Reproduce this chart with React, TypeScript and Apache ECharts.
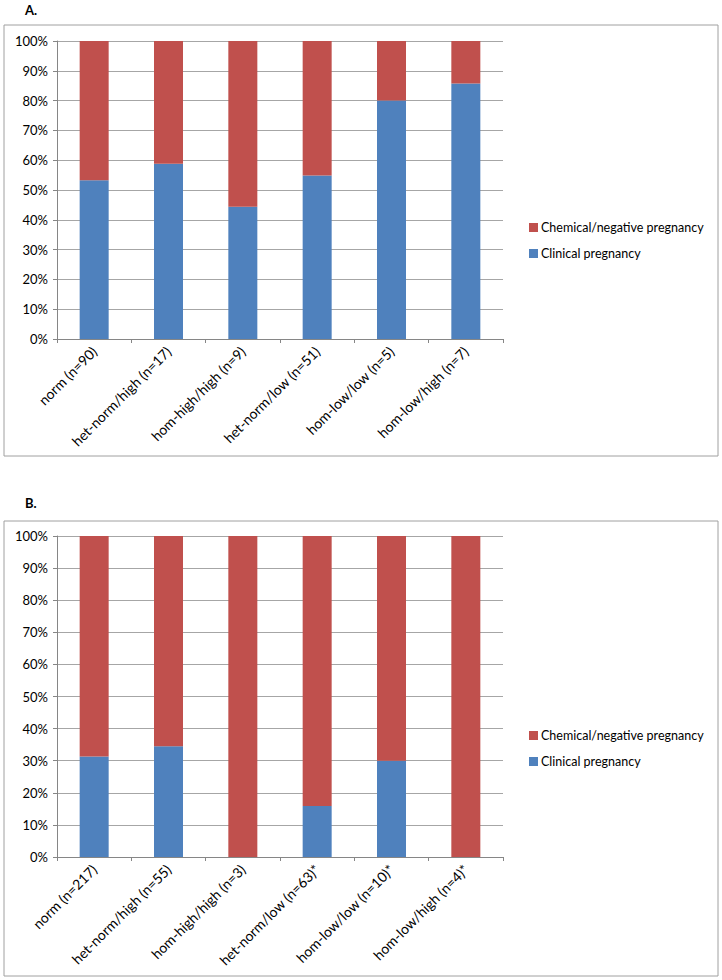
import React, { useEffect, useRef } from "react";
import * as echarts from "echarts";

const categoriesA = [
  "norm (n=90)",
  "het-norm/high (n=17)",
  "hom-high/high (n=9)",
  "het-norm/low (n=51)",
  "hom-low/low (n=5)",
  "hom-low/high (n=7)",
];
const clinicalA = [53.3, 58.8, 44.4, 54.9, 80.0, 85.7];
const chemicalA = [46.7, 41.2, 55.6, 45.1, 20.0, 14.3];

const categoriesB = [
  "norm (n=217)",
  "het-norm/high (n=55)",
  "hom-high/high (n=3)",
  "het-norm/low (n=63)*",
  "hom-low/low (n=10)*",
  "hom-low/high (n=4)*",
];
const clinicalB = [31.3, 34.5, 0, 15.9, 30.0, 0];
const chemicalB = [68.7, 65.5, 100, 84.1, 70.0, 100];

const yTicks = { min: 0, max: 100, interval: 10 };

const CLIN = "Clinical pregnancy";
const CHEM = "Chemical/negative pregnancy";
const BLUE = "#4f81bd";
const RED = "#c0504d";
const FONT = "Lato";
const GRAY = "#a6a6a6";

export default function App() {
  const ref = useRef<HTMLDivElement>(null);
  useEffect(() => {
    if (!ref.current) return;
    const chart = echarts.init(ref.current, null, { renderer: "svg" });
    const yAxis = (gi: number) => ({
      type: "value",
      gridIndex: gi,
      ...yTicks,
      axisLine: { show: true, lineStyle: { color: "#868686" } },
      axisTick: { show: true, length: 4, lineStyle: { color: "#868686" } },
      splitLine: { show: true, lineStyle: { color: GRAY } },
      axisLabel: { formatter: "{value}%", color: "#000", fontFamily: FONT, fontSize: 13, margin: 9 },
    });
    const xAxis = (gi: number, data: string[]) => ({
      type: "category",
      gridIndex: gi,
      data,
      axisLine: { show: true, lineStyle: { color: "#868686" } },
      axisTick: { show: true, length: 4, alignWithLabel: false, lineStyle: { color: "#868686" } },
      axisLabel: { rotate: 45, color: "#000", fontFamily: FONT, fontSize: 14, margin: 10, interval: 0 },
    });
    const bar = (name: string, data: number[], color: string, gi: number) => ({
      type: "bar",
      name,
      data,
      stack: "s" + gi,
      xAxisIndex: gi,
      yAxisIndex: gi,
      barWidth: 29,
      itemStyle: { color },
    });
    const legend = (top: number) => ({
      orient: "vertical",
      left: 524,
      top,
      itemWidth: 9,
      itemHeight: 9,
      itemGap: 13,
      icon: "rect",
      data: [CHEM, CLIN],
      textStyle: { fontFamily: FONT, fontSize: 12.5, color: "#000", padding: [0, 0, 0, -2] },
      selectedMode: false,
    });
    chart.setOption({
      animation: false,
      backgroundColor: "#fff",
      graphic: [
        { type: "rect", shape: { x: 4, y: 25, width: 714, height: 431 }, style: { fill: "none", stroke: "#a0a0a0", lineWidth: 1 } },
        { type: "rect", shape: { x: 4, y: 521, width: 714, height: 455 }, style: { fill: "none", stroke: "#a0a0a0", lineWidth: 1 } },
        { type: "text", left: 25, top: 3, style: { text: "A.", font: `bold 13px ${FONT}`, fill: "#000" } },
        { type: "text", left: 25, top: 496, style: { text: "B.", font: `bold 13px ${FONT}`, fill: "#000" } },
      ],
      legend: [legend(216), legend(724)],
      grid: [
        { left: 57, top: 41, width: 446, height: 298 },
        { left: 57, top: 536, width: 446, height: 321 },
      ],
      xAxis: [xAxis(0, categoriesA), xAxis(1, categoriesB)],
      yAxis: [yAxis(0), yAxis(1)],
      series: [
        bar(CLIN, clinicalA, BLUE, 0),
        bar(CHEM, chemicalA, RED, 0),
        bar(CLIN, clinicalB, BLUE, 1),
        bar(CHEM, chemicalB, RED, 1),
      ],
    });
    return () => chart.dispose();
  }, []);
  return (
    <div
      ref={ref}
      style={{ position: "absolute", left: 0, top: 0, width: 722, height: 980, background: "#fff" }}
    />
  );
}
